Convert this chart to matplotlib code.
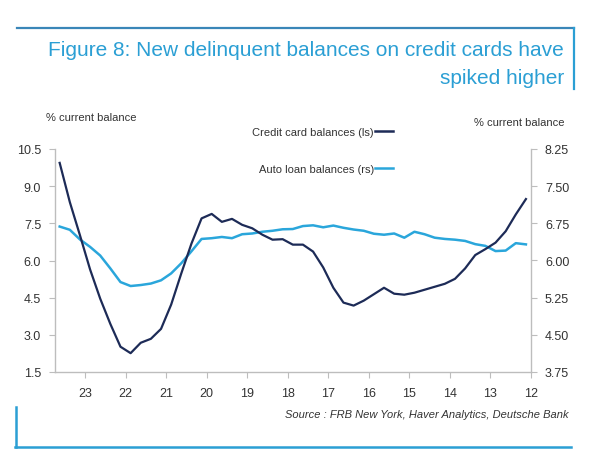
import matplotlib
matplotlib.use("Agg")
import matplotlib.pyplot as plt
from matplotlib.lines import Line2D
import pandas as pd

plt.rcParams['font.family'] = ['Liberation Sans', 'DejaVu Sans']

quarters = pd.period_range('2012Q1', '2023Q3', freq='Q')
credit_card = [7.24, 6.93, 6.59, 6.36, 6.23, 6.11, 5.84, 5.63, 5.53, 5.47, 5.41, 5.35,
               5.31, 5.33, 5.45, 5.32, 5.19, 5.09, 5.15, 5.45, 5.86, 6.18, 6.32, 6.32,
               6.43, 6.42, 6.52, 6.65, 6.72, 6.84, 6.78, 6.94, 6.85, 6.34, 5.74, 5.11,
               4.62, 4.42, 4.34, 4.13, 4.26, 4.72, 5.23, 5.82, 6.51, 7.18, 7.97]
auto_loan = [6.65, 6.70, 6.40, 6.38, 6.59, 6.66, 6.79, 6.84, 6.87, 6.92, 7.06, 7.16,
             6.92, 7.09, 7.04, 7.08, 7.20, 7.25, 7.32, 7.41, 7.34, 7.42, 7.39, 7.27,
             7.26, 7.20, 7.16, 7.09, 7.06, 6.90, 6.95, 6.90, 6.87, 6.37, 5.89, 5.48,
             5.20, 5.07, 5.01, 4.97, 5.13, 5.68, 6.20, 6.55, 6.85, 7.24, 7.37]
year_ticks = list(range(12, 24))
year_labels = [str(y) for y in year_ticks]
left_ticks = [1.5, 3.0, 4.5, 6.0, 7.5, 9.0, 10.5]
right_ticks = [3.75, 4.50, 5.25, 6.00, 6.75, 7.50, 8.25]

x = [q.year - 2000 + (q.quarter - 1) / 4 + 0.125 for q in quarters]

DARK = '#1d2b57'
LIGHT = '#2aa6db'
BLUE = '#2b9fd4'
GREY = '#bdbdbd'
TXT = '#333333'

W, H = 600, 460
fig = plt.figure(figsize=(6, 4.6), dpi=100)
ax = fig.add_axes([55 / W, 1 - 373 / H, (531 - 55) / W, (373 - 150) / H])
ax2 = ax.twinx()

ax.plot(x, auto_loan, color=LIGHT, lw=1.8, zorder=2)
ax2.plot(x, credit_card, color=DARK, lw=1.6, zorder=3)

ax.set_xlim(23.74, 12.0)
ax.set_ylim(1.5, 10.5)
ax2.set_ylim(3.75, 8.25)
ax.set_xticks(year_ticks)
ax.set_xticklabels(year_labels)
ax.set_yticks(left_ticks)
ax.set_yticklabels(['%.1f' % v for v in left_ticks])
ax2.set_yticks(right_ticks)
ax2.set_yticklabels(['%.2f' % v for v in right_ticks])

for a in (ax, ax2):
    a.spines['top'].set_visible(False)
    for s in ('left', 'right', 'bottom'):
        a.spines[s].set_color(GREY)
        a.spines[s].set_linewidth(1.0)
    a.tick_params(colors=GREY, labelcolor=TXT, labelsize=9, length=4, width=0.8, pad=6)
ax.spines['right'].set_visible(False)
ax2.spines['left'].set_visible(False)
ax2.spines['bottom'].set_visible(False)
ax.tick_params(axis='x', pad=7)

fig.text(91 / W, 1 - 118 / H, '% current balance', ha='center', va='center',
         fontsize=8, color=TXT)
fig.text(519 / W, 1 - 123 / H, '% current balance', ha='center', va='center',
         fontsize=8, color=TXT)

handles = [Line2D([], [], color=DARK, lw=1.8), Line2D([], [], color=LIGHT, lw=1.8)]
ax.legend(handles, ['Credit card balances (ls)', 'Auto loan balances (rs)'],
          loc='upper right', bbox_to_anchor=(393 / W, 1 - 128 / H),
          bbox_transform=fig.transFigure, markerfirst=False, frameon=False,
          handlelength=1.6, handletextpad=0.1, labelspacing=2.4, fontsize=8,
          labelcolor=TXT, borderpad=0, borderaxespad=0)

# title block
fig.add_artist(Line2D([17 / W, 574 / W], [1 - 29 / H, 1 - 29 / H],
                      transform=fig.transFigure, color='#3a86b8', lw=1.6))
fig.add_artist(Line2D([574 / W, 574 / W], [1 - 29 / H, 1 - 90 / H],
                      transform=fig.transFigure, color=BLUE, lw=1.6))
fig.text(564 / W, 1 - 50 / H, 'Figure 8: New delinquent balances on credit cards have',
         ha='right', va='center', fontsize=15, color=BLUE)
fig.text(564 / W, 1 - 78 / H, 'spiked higher', ha='right', va='center',
         fontsize=15, color=BLUE)

# source block
fig.text(569 / W, 1 - 415 / H, 'Source : FRB New York, Haver Analytics, Deutsche Bank',
         ha='right', va='center', fontsize=8, style='italic', color=TXT)
fig.add_artist(Line2D([15 / W, 571 / W], [1 - 448 / H, 1 - 448 / H],
                      transform=fig.transFigure, color=BLUE, lw=1.8))
fig.add_artist(Line2D([16 / W, 16 / W], [1 - 408 / H, 1 - 448 / H],
                      transform=fig.transFigure, color=BLUE, lw=1.8))

fig.savefig('out.png', dpi=100, facecolor='white')
